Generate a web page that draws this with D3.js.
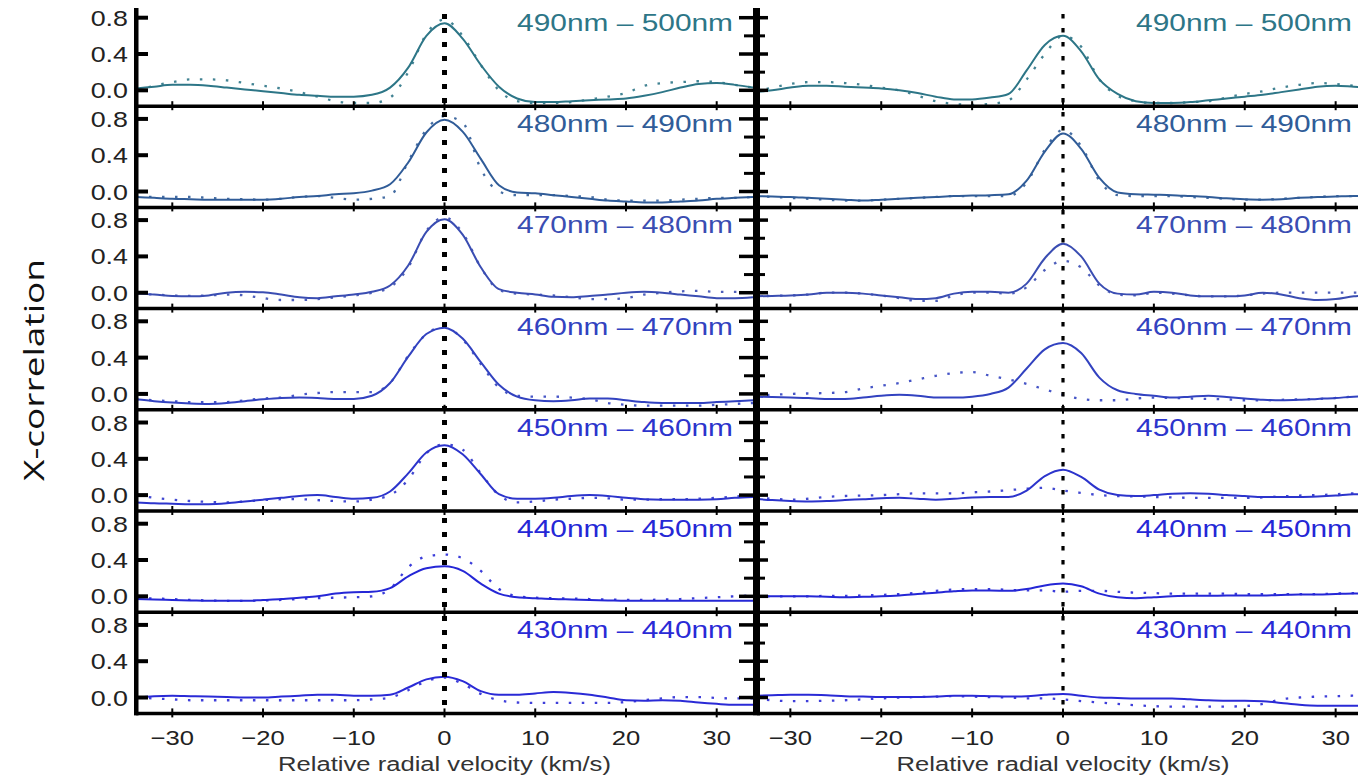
<!DOCTYPE html>
<html><head><meta charset="utf-8">
<script src="https://cdn.jsdelivr.net/npm/d3@7"></script>
<style>body{margin:0;background:#fff}svg{display:block}</style>
</head><body><svg id="c" width="1358" height="779"></svg>
<script>
// ---------------- DATA ----------------
const velocity = [-34,-32,-30,-28,-26,-24,-22,-20,-18,-16,-14,-12,-10,-8,-6,-4,-2,0,2,4,6,8,10,12,14,16,18,20,22,24,26,28,30,32,34];
const bands = ["490nm – 500nm","480nm – 490nm","470nm – 480nm","460nm – 470nm","450nm – 460nm","440nm – 450nm","430nm – 440nm"];
const bandColors = ["#2d7687","#305c98","#3a4db2","#3242c0","#2c34cc","#2527d6","#2a2ad6"];
const yTicksMajor = [0, 0.4, 0.8];
const yTicksMinor = [0.2, 0.6];
const yTickLabels = ["0.0","0.4","0.8"];
const xTicks = [-30,-20,-10,0,10,20,30];
const xTickLabels = ["\u221230","\u221220","\u221210","0","10","20","30"];

// left panel, solid / dotted
const L490s = [0.02,0.04,0.06,0.06,0.05,0.03,0.01,-0.01,-0.03,-0.05,-0.06,-0.07,-0.07,-0.05,0.03,0.25,0.6,0.74,0.57,0.28,0.04,-0.09,-0.13,-0.13,-0.12,-0.11,-0.1,-0.09,-0.06,-0.02,0.03,0.07,0.08,0.06,0.03];
const L490d = [0.0,0.05,0.09,0.12,0.12,0.11,0.08,0.05,0.02,-0.02,-0.07,-0.12,-0.14,-0.14,-0.08,0.2,0.62,0.78,0.6,0.28,0.0,-0.12,-0.14,-0.14,-0.13,-0.1,-0.07,-0.03,0.05,0.08,0.09,0.1,0.09,0.06,0.03];
const L480s = [-0.06,-0.07,-0.08,-0.085,-0.09,-0.09,-0.09,-0.09,-0.08,-0.06,-0.05,-0.03,-0.02,0.01,0.08,0.32,0.65,0.79,0.66,0.36,0.07,-0.01,-0.02,-0.04,-0.06,-0.08,-0.1,-0.11,-0.12,-0.12,-0.11,-0.1,-0.08,-0.07,-0.06];
const L480d = [-0.06,-0.06,-0.06,-0.06,-0.07,-0.08,-0.085,-0.09,-0.08,-0.06,-0.05,-0.07,-0.09,-0.08,-0.05,0.33,0.68,0.83,0.76,0.25,0.0,-0.04,-0.04,-0.04,-0.05,-0.06,-0.09,-0.1,-0.1,-0.1,-0.09,-0.08,-0.07,-0.07,-0.06];
const L470s = [-0.01,-0.02,-0.035,-0.04,-0.03,0.0,0.01,0.005,-0.02,-0.05,-0.06,-0.04,-0.02,0.01,0.08,0.3,0.67,0.81,0.64,0.28,0.04,0.0,-0.02,-0.045,-0.05,-0.035,-0.02,0.0,0.01,0.0,-0.02,-0.04,-0.06,-0.06,-0.05];
const L470d = [-0.01,-0.02,-0.03,-0.035,-0.03,-0.02,-0.03,-0.06,-0.08,-0.08,-0.07,-0.05,-0.03,0.0,0.06,0.28,0.68,0.83,0.66,0.28,0.03,-0.01,-0.02,-0.03,-0.05,-0.07,-0.07,-0.06,-0.02,0.0,0.015,0.02,0.01,0.01,0.005];
const L460s = [-0.06,-0.08,-0.095,-0.105,-0.11,-0.1,-0.08,-0.06,-0.045,-0.04,-0.045,-0.055,-0.055,-0.02,0.12,0.41,0.66,0.73,0.61,0.35,0.1,-0.03,-0.07,-0.08,-0.07,-0.05,-0.05,-0.07,-0.09,-0.1,-0.1,-0.1,-0.09,-0.08,-0.07];
const L460d = [-0.06,-0.07,-0.08,-0.09,-0.09,-0.09,-0.07,-0.05,-0.04,-0.01,0.01,0.02,0.02,0.02,0.12,0.42,0.66,0.74,0.6,0.33,0.07,-0.02,-0.03,-0.03,-0.04,-0.06,-0.1,-0.12,-0.13,-0.13,-0.13,-0.13,-0.12,-0.11,-0.1];
const L450s = [-0.08,-0.09,-0.095,-0.1,-0.1,-0.09,-0.07,-0.05,-0.03,-0.01,0.0,-0.02,-0.04,-0.03,0.04,0.24,0.47,0.55,0.45,0.23,0.01,-0.04,-0.04,-0.03,-0.01,0.0,-0.01,-0.03,-0.045,-0.05,-0.05,-0.05,-0.045,-0.03,-0.02];
const L450d = [0.0,-0.03,-0.05,-0.065,-0.075,-0.08,-0.07,-0.055,-0.045,-0.045,-0.055,-0.065,-0.07,-0.05,0.0,0.17,0.46,0.56,0.5,0.24,0.0,-0.08,-0.07,-0.05,-0.04,-0.03,-0.035,-0.05,-0.05,-0.045,-0.045,-0.04,-0.03,-0.015,0.0];
const L440s = [-0.03,-0.035,-0.04,-0.045,-0.05,-0.05,-0.05,-0.04,-0.03,-0.015,0.0,0.03,0.045,0.05,0.09,0.22,0.31,0.33,0.28,0.14,0.03,-0.01,-0.02,-0.03,-0.035,-0.04,-0.045,-0.05,-0.05,-0.05,-0.05,-0.05,-0.05,-0.05,-0.05];
const L440d = [-0.02,-0.025,-0.03,-0.04,-0.045,-0.05,-0.05,-0.045,-0.04,-0.03,-0.02,-0.015,-0.01,0.0,0.08,0.32,0.44,0.46,0.42,0.28,0.08,0.0,-0.015,-0.02,-0.025,-0.03,-0.035,-0.04,-0.04,-0.035,-0.03,-0.02,-0.01,0.0,0.01];
const L430s = [0.0,0.015,0.02,0.015,0.01,0.005,0.0,0.0,0.01,0.02,0.03,0.03,0.02,0.02,0.03,0.11,0.2,0.23,0.18,0.07,0.03,0.03,0.045,0.06,0.05,0.03,0.0,-0.03,-0.035,-0.03,-0.035,-0.055,-0.07,-0.08,-0.08];
const L430d = [0.0,-0.01,-0.02,-0.03,-0.03,-0.03,-0.03,-0.03,-0.03,-0.03,-0.03,-0.03,-0.03,-0.02,0.0,0.08,0.18,0.22,0.15,0.04,-0.03,-0.055,-0.06,-0.06,-0.06,-0.06,-0.06,-0.05,-0.03,-0.01,0.005,0.005,-0.005,-0.01,-0.01];

// right panel, solid / dotted
const R490s = [-0.02,0.0,0.03,0.05,0.05,0.04,0.03,0.02,0.0,-0.03,-0.07,-0.1,-0.1,-0.08,-0.04,0.22,0.5,0.6,0.43,0.12,-0.04,-0.12,-0.14,-0.14,-0.13,-0.11,-0.09,-0.07,-0.05,-0.02,0.01,0.04,0.05,0.04,0.03];
const R490d = [-0.02,0.03,0.07,0.09,0.09,0.08,0.06,0.03,0.0,-0.06,-0.12,-0.15,-0.16,-0.15,-0.11,0.12,0.4,0.6,0.48,0.12,-0.06,-0.12,-0.14,-0.14,-0.13,-0.12,-0.08,-0.04,-0.01,0.03,0.06,0.08,0.07,0.05,0.03];
const R480s = [-0.05,-0.055,-0.06,-0.07,-0.08,-0.09,-0.1,-0.09,-0.08,-0.07,-0.06,-0.05,-0.045,-0.04,-0.03,0.12,0.44,0.64,0.47,0.15,-0.01,-0.03,-0.035,-0.04,-0.05,-0.06,-0.075,-0.085,-0.09,-0.085,-0.07,-0.06,-0.055,-0.05,-0.05];
const R480d = [-0.05,-0.06,-0.07,-0.08,-0.09,-0.1,-0.1,-0.09,-0.08,-0.07,-0.06,-0.05,-0.05,-0.05,-0.05,0.1,0.46,0.68,0.5,0.12,-0.04,-0.05,-0.05,-0.05,-0.06,-0.07,-0.08,-0.09,-0.09,-0.08,-0.07,-0.06,-0.05,-0.05,-0.05];
const R470s = [-0.04,-0.035,-0.03,-0.02,0.0,0.0,-0.01,-0.03,-0.05,-0.07,-0.06,-0.01,0.01,0.01,0.0,0.1,0.38,0.54,0.4,0.1,-0.01,-0.02,0.01,0.0,-0.03,-0.04,-0.04,-0.03,0.0,-0.02,-0.06,-0.08,-0.07,-0.04,-0.03];
const R470d = [-0.04,-0.035,-0.03,-0.02,0.0,0.0,-0.01,-0.03,-0.06,-0.09,-0.09,-0.03,0.0,0.0,-0.01,0.06,0.25,0.35,0.28,0.08,-0.02,-0.03,0.0,-0.01,-0.03,-0.04,-0.04,-0.03,-0.01,0.0,0.0,0.0,0.0,0.0,0.0];
const R460s = [-0.03,-0.035,-0.04,-0.045,-0.055,-0.055,-0.04,-0.02,-0.01,-0.02,-0.04,-0.04,-0.03,0.0,0.07,0.28,0.49,0.56,0.45,0.18,0.04,0.0,-0.02,-0.04,-0.03,-0.02,-0.035,-0.05,-0.065,-0.07,-0.065,-0.055,-0.045,-0.03,-0.025];
const R460d = [-0.02,-0.01,0.0,0.005,0.01,0.02,0.06,0.09,0.12,0.16,0.2,0.23,0.24,0.2,0.16,0.11,0.05,-0.01,-0.055,-0.07,-0.07,-0.05,-0.04,-0.045,-0.05,-0.055,-0.06,-0.07,-0.07,-0.065,-0.06,-0.055,-0.045,-0.03,-0.025];
const R450s = [-0.04,-0.055,-0.065,-0.07,-0.065,-0.055,-0.045,-0.035,-0.03,-0.04,-0.05,-0.04,-0.025,-0.02,-0.02,0.05,0.21,0.28,0.2,0.06,0.0,-0.01,0.0,0.015,0.02,0.015,0.0,-0.01,-0.02,-0.02,-0.02,-0.015,-0.005,0.01,0.01];
const R450d = [-0.03,-0.04,-0.05,-0.04,-0.02,-0.01,-0.005,0.0,0.01,0.02,0.02,0.02,0.03,0.04,0.055,0.07,0.08,0.05,0.025,0.0,-0.01,-0.015,-0.02,-0.025,-0.03,-0.03,-0.03,-0.03,-0.025,-0.015,-0.005,0.0,0.01,0.02,0.02];
const R440s = [0.0,0.0,0.0,0.0,-0.005,-0.01,-0.005,0.0,0.01,0.025,0.04,0.055,0.065,0.065,0.06,0.08,0.12,0.14,0.11,0.03,-0.01,-0.02,-0.01,0.0,0.005,0.005,0.01,0.01,0.01,0.015,0.02,0.02,0.025,0.03,0.03];
const R440d = [0.0,0.0,0.0,0.0,0.005,0.005,0.01,0.015,0.025,0.04,0.06,0.075,0.08,0.08,0.07,0.065,0.065,0.05,0.06,0.06,0.05,0.04,0.035,0.03,0.03,0.03,0.03,0.025,0.025,0.025,0.025,0.025,0.03,0.035,0.035];
const R430s = [0.02,0.025,0.03,0.03,0.025,0.015,0.01,0.005,0.005,0.005,0.01,0.02,0.02,0.015,0.01,0.015,0.03,0.04,0.02,0.0,-0.005,-0.01,-0.01,-0.01,-0.02,-0.03,-0.035,-0.035,-0.04,-0.06,-0.08,-0.09,-0.09,-0.09,-0.09];
const R430d = [-0.01,-0.03,-0.04,-0.04,-0.035,-0.03,-0.02,-0.01,0.0,0.005,0.01,0.015,0.01,0.005,0.0,-0.01,-0.01,-0.02,-0.04,-0.055,-0.07,-0.085,-0.095,-0.1,-0.1,-0.1,-0.1,-0.095,-0.07,-0.02,0.0,0.01,0.015,0.02,0.02];

const leftSolid  = [L490s,L480s,L470s,L460s,L450s,L440s,L430s];
const leftDotted = [L490d,L480d,L470d,L460d,L450d,L440d,L430d];
const rightSolid  = [R490s,R480s,R470s,R460s,R450s,R440s,R430s];
const rightDotted = [R490d,R480d,R470d,R460d,R450d,R440d,R430d];

// ---------------- LAYOUT ----------------
const svg = d3.select("#c");
const rowTop0 = 5, rowH = 101.2, nRows = 7;
const yDomain = [-0.175, 0.94];
const sx = 1.22; // horizontal stretch of the original figure text
const FONT = "'Liberation Sans', Arial, Helvetica, sans-serif";

const panels = [
  {x: d3.scaleLinear().domain([-34,34]).range([136,753]), left:136, right:753, solid:leftSolid, dotted:leftDotted, labelX:733, zeroW:5, zeroDash:"5,9", labels:true},
  {x: d3.scaleLinear().domain([-34,34]).range([754,1372]), left:757, right:1358, solid:rightSolid, dotted:rightDotted, labelX:1352, zeroW:3.2, zeroDash:"4.5,9.5", labels:false}
];

function stretchedText(g, x, y, str, size, anchor, fill){
  return g.append("text")
    .attr("transform", `translate(${x},${y}) scale(${sx},1)`)
    .attr("text-anchor", anchor)
    .attr("font-family", FONT)
    .attr("font-size", size)
    .attr("fill", fill)
    .text(str);
}

const defs = svg.append("defs");

panels.forEach((p, pi) => {
  const g = svg.append("g");
  const clipId = "clip" + pi;
  defs.append("clipPath").attr("id", clipId)
    .append("rect").attr("x", p.left).attr("y", rowTop0).attr("width", p.right - p.left).attr("height", rowH*nRows);

  for (let r = 0; r < nRows; r++) {
    const top = rowTop0 + r*rowH;
    const y = d3.scaleLinear().domain(yDomain).range([top + rowH, top]);
    const line = d3.line().x((d,i) => p.x(velocity[i])).y(d => y(d)).curve(d3.curveMonotoneX);
    const col = bandColors[r];
    const cg = g.append("g").attr("clip-path", `url(#${clipId})`);
    cg.append("path").attr("d", line(p.dotted[r])).attr("fill","none")
      .attr("stroke", col).attr("stroke-width", 2.3).attr("stroke-dasharray","2.5,10.5").attr("opacity",0.9);
    cg.append("path").attr("d", line(p.solid[r])).attr("fill","none")
      .attr("stroke", col).attr("stroke-width", 2);

    // band label
    stretchedText(g, p.labelX, top + 26, bands[r], 24.5, "end", col);

    // y ticks
    yTicksMajor.forEach((t, ti) => {
      const yy = y(t);
      if (p.labels) {
        g.append("line").attr("x1", p.left).attr("x2", p.left + 12).attr("y1", yy).attr("y2", yy)
          .attr("stroke","#000").attr("stroke-width",4);
        stretchedText(g, 128, yy + 8, yTickLabels[ti], 22, "end", "#222");
        g.append("line").attr("x1", p.right - 14).attr("x2", p.right).attr("y1", yy).attr("y2", yy)
          .attr("stroke","#000").attr("stroke-width",3.5);
      } else {
        g.append("line").attr("x1", p.left).attr("x2", p.left + 11).attr("y1", yy).attr("y2", yy)
          .attr("stroke","#000").attr("stroke-width",3.5);
      }
    });
    yTicksMinor.forEach(t => {
      const yy = y(t);
      if (p.labels) {
        g.append("line").attr("x1", p.right - 9).attr("x2", p.right).attr("y1", yy).attr("y2", yy)
          .attr("stroke","#000").attr("stroke-width",3);
      } else {
        g.append("line").attr("x1", p.left).attr("x2", p.left + 8).attr("y1", yy).attr("y2", yy)
          .attr("stroke","#000").attr("stroke-width",3);
      }
    });

    // x minor ticks on row boundaries
    xTicks.forEach(t => {
      const xx = p.x(t);
      if (xx < p.left || xx > p.right) return;
      g.append("line").attr("x1", xx).attr("x2", xx).attr("y1", top + rowH - 5).attr("y2", top + rowH + 4)
        .attr("stroke","#000").attr("stroke-width",2);
    });

    // divider line (bottom of row)
    g.append("line").attr("x1", p.left).attr("x2", p.right).attr("y1", top + rowH).attr("y2", top + rowH)
      .attr("stroke","#000").attr("stroke-width", 3.5);
  }

  // dotted zero velocity line
  g.append("line").attr("x1", p.x(0)).attr("x2", p.x(0)).attr("y1", 14).attr("y2", rowTop0 + rowH*nRows)
    .attr("stroke","#000").attr("stroke-width", p.zeroW).attr("stroke-dasharray", p.zeroDash);

  // x tick labels and title
  const bottom = rowTop0 + rowH*nRows;
  xTicks.forEach((t, ti) => {
    stretchedText(g, p.x(t), bottom + 32, xTickLabels[ti], 21, "middle", "#222");
  });
  stretchedText(g, p.x(0), bottom + 58, "Relative radial velocity (km/s)", 21, "middle", "#333");
});

// vertical axis bars
svg.append("rect").attr("x", 134).attr("y", rowTop0 + 3).attr("width", 4.5).attr("height", rowH*nRows - 1).attr("fill","#000");
svg.append("rect").attr("x", 753).attr("y", rowTop0 + 3).attr("width", 7).attr("height", rowH*nRows - 1).attr("fill","#000");

// y axis title
svg.append("text")
  .attr("transform", "translate(44,370) rotate(-90)")
  .attr("text-anchor","middle")
  .attr("font-family","'Open Sans','Noto Sans',sans-serif")
  .attr("font-size", 27)
  .attr("fill","#111")
  .attr("textLength", 222).attr("lengthAdjust","spacingAndGlyphs")
  .text("X-correlation");
</script></body></html>
